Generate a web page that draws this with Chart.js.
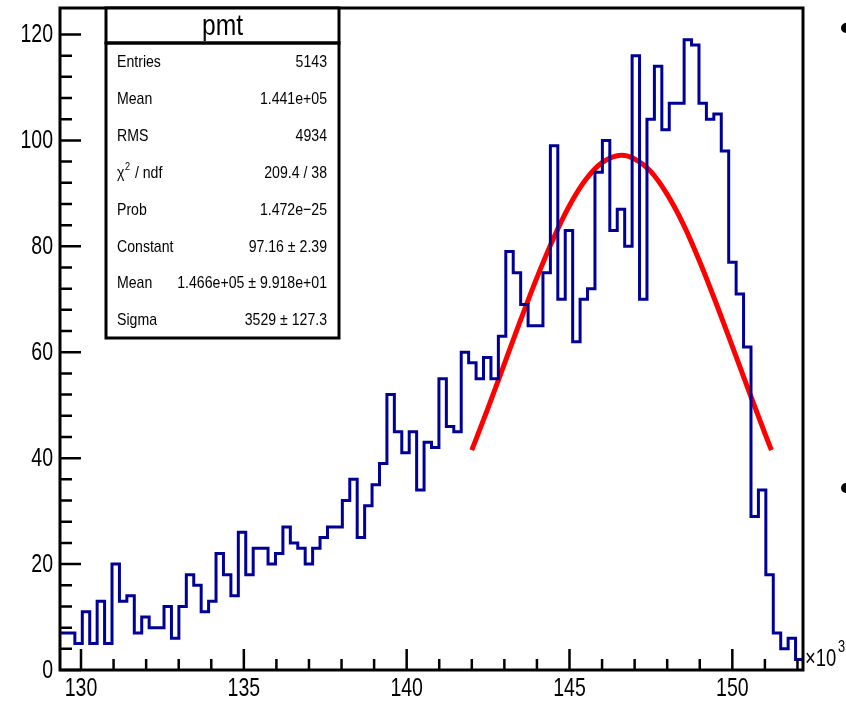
<!DOCTYPE html>
<html>
<head>
<meta charset="utf-8">
<script src="https://cdn.jsdelivr.net/npm/chart.js@4.4.1/dist/chart.umd.min.js"></script>
<style>
  html, body { margin: 0; padding: 0; background: #fff; }
  canvas { display: block; }
</style>
</head>
<body>
<canvas id="histo" width="846" height="704"></canvas>
<script>
// histogram "pmt": 100 bins, counts (x in units of 10^3)
const xMin = 129.355;
const xMax = 152.17;
const counts = [
  7, 7, 5, 11, 5, 13, 5, 20, 13, 14,
  7, 10, 8, 8, 12, 6, 12, 18, 16, 11,
  13, 22, 18, 14, 26, 18, 23, 23, 20, 22,
  27, 24, 23, 20, 23, 25, 27, 27, 32, 36,
  25, 31, 35, 39, 52, 45, 41, 45, 34, 43,
  42, 55, 46, 45, 60, 58, 55, 59, 55, 63,
  79, 75, 69, 65, 65, 75, 99, 70, 83, 62,
  70, 72, 94, 100, 83, 87, 80, 116, 70, 104,
  114, 102, 107, 107, 119, 118, 107, 104, 105, 98,
  77, 71, 61, 29, 34, 18, 7, 4, 6, 2
];

// gaussian fit curve
const fitX = [142, 142.5, 143, 143.5, 144, 144.5, 145, 145.5, 146, 146.6, 147, 147.5, 148, 148.5, 149, 149.5, 150, 150.5, 151, 151.2];
const fitY = [41.5, 49.5, 57.8, 66.1, 74.1, 81.4, 87.7, 92.6, 95.8, 97.2, 96.5, 94.1, 89.8, 84.1, 77.1, 69.3, 61.1, 52.8, 44.7, 41.5];

const xMajor = [130, 135, 140, 145, 150];
const xMinor = [130, 131, 132, 133, 134, 135, 136, 137, 138, 139, 140, 141, 142, 143, 144, 145, 146, 147, 148, 149, 150, 151, 152];
const yMajor = [0, 20, 40, 60, 80, 100, 120];
const yMinor = [0, 4, 8, 12, 16, 20, 24, 28, 32, 36, 40, 44, 48, 52, 56, 60, 64, 68, 72, 76, 80, 84, 88, 92, 96, 100, 104, 108, 112, 116, 120];
const yMax = 125;

const statsTitle = 'pmt';
const statsNames = ['Entries', 'Mean', 'RMS', 'χ2 / ndf', 'Prob', 'Constant', 'Mean', 'Sigma'];
const statsValues = ['5143', '1.441e+05', '4934', '209.4 / 38', '1.472e\u221225', '97.16 \u00b1 2.39', '1.466e+05 \u00b1 9.918e+01', '3529 \u00b1 127.3'];

const binWidth = (xMax - xMin) / counts.length;
const histPoints = counts.map((c, i) => ({ x: xMin + i * binWidth, y: c }));
histPoints.push({ x: xMax, y: counts[counts.length - 1] });
const fitPoints = fitX.map((x, i) => ({ x: x, y: fitY[i] }));

const FONT = '"Liberation Sans", Arial, Helvetica, sans-serif';

// narrow text, like the ROOT canvas
function narrowText(ctx, str, x, y, size, align, sx) {
  ctx.save();
  ctx.translate(x, y);
  ctx.scale(sx, 1);
  ctx.font = size + 'px ' + FONT;
  ctx.textAlign = align;
  ctx.textBaseline = 'middle';
  ctx.fillText(str, 0, 0);
  ctx.restore();
}

const rootFrame = {
  id: 'rootFrame',
  afterDraw(chart) {
    const ctx = chart.ctx;
    const area = chart.chartArea;
    const xs = chart.scales.x;
    const ys = chart.scales.y;
    ctx.save();
    ctx.strokeStyle = '#000';
    ctx.fillStyle = '#000';
    ctx.lineCap = 'butt';

    // ticks inside the frame
    ctx.lineWidth = 2.5;
    ctx.beginPath();
    xMinor.forEach(v => {
      const px = xs.getPixelForValue(v);
      const len = xMajor.includes(v) ? 21 : 11;
      ctx.moveTo(px, area.bottom);
      ctx.lineTo(px, area.bottom - len);
    });
    yMinor.forEach(v => {
      const py = ys.getPixelForValue(v);
      const len = yMajor.includes(v) ? 21 : 12;
      ctx.moveTo(area.left, py);
      ctx.lineTo(area.left + len, py);
    });
    ctx.stroke();

    // frame
    ctx.lineWidth = 3;
    ctx.strokeRect(area.left, area.top, area.right - area.left, area.bottom - area.top);

    // tick labels
    yMajor.forEach(v => {
      narrowText(ctx, String(v), area.left - 7, ys.getPixelForValue(v) + 1, 25, 'right', 0.78);
    });
    xMajor.forEach(v => {
      narrowText(ctx, String(v), xs.getPixelForValue(v), area.bottom + 19, 25, 'center', 0.78);
    });
    // axis multiplier
    narrowText(ctx, '\u00d710', area.right + 2, area.bottom - 10, 23, 'left', 0.8);
    narrowText(ctx, '3', area.right + 35, area.bottom - 22, 16, 'left', 0.8);

    // stats box
    const bx = 106, bw = 233, bt = 8, bd = 43, bb = 338;
    ctx.fillStyle = '#fff';
    ctx.fillRect(bx, bt, bw, bb - bt);
    ctx.lineWidth = 3;
    ctx.strokeRect(bx, bt, bw, bd - bt);
    ctx.strokeRect(bx, bd, bw, bb - bd);
    ctx.fillStyle = '#000';
    narrowText(ctx, statsTitle, bx + bw / 2, (bt + bd) / 2 + 1, 29, 'center', 0.85);
    const rowH = (bb - bd) / statsNames.length;
    statsNames.forEach((name, i) => {
      const cy = bd + (i + 0.5) * rowH + 1;
      if (name.startsWith('χ2')) {
        narrowText(ctx, 'χ', bx + 11, cy, 17, 'left', 0.83);
        narrowText(ctx, '2', bx + 19, cy - 6, 11, 'left', 0.83);
        narrowText(ctx, ' / ndf', bx + 25, cy, 17, 'left', 0.83);
      } else {
        narrowText(ctx, name, bx + 11, cy, 17, 'left', 0.83);
      }
      narrowText(ctx, statsValues[i], bx + bw - 12, cy, 17, 'right', 0.83);
    });

    // bullets of the surrounding slide
    ctx.beginPath();
    ctx.arc(846, 28, 5, 0, Math.PI * 2);
    ctx.arc(846, 488, 5, 0, Math.PI * 2);
    ctx.fill();
    ctx.restore();
  }
};

new Chart(document.getElementById('histo'), {
  type: 'line',
  data: {
    datasets: [
      {
        label: 'pmt',
        data: histPoints,
        stepped: 'before',
        borderColor: '#000099',
        borderWidth: 3,
        pointRadius: 0,
        fill: false
      },
      {
        label: 'gaus',
        data: fitPoints,
        borderColor: '#ff0000',
        borderWidth: 5,
        pointRadius: 0,
        cubicInterpolationMode: 'monotone',
        fill: false
      }
    ]
  },
  options: {
    responsive: false,
    animation: false,
    devicePixelRatio: 1,
    layout: { padding: { left: 60, right: 43, top: 8, bottom: 34 } },
    plugins: {
      legend: { display: false },
      tooltip: { enabled: false }
    },
    scales: {
      x: { type: 'linear', min: xMin, max: xMax, display: false },
      y: { type: 'linear', min: 0, max: yMax, display: false }
    }
  },
  plugins: [rootFrame]
});
</script>
</body>
</html>
